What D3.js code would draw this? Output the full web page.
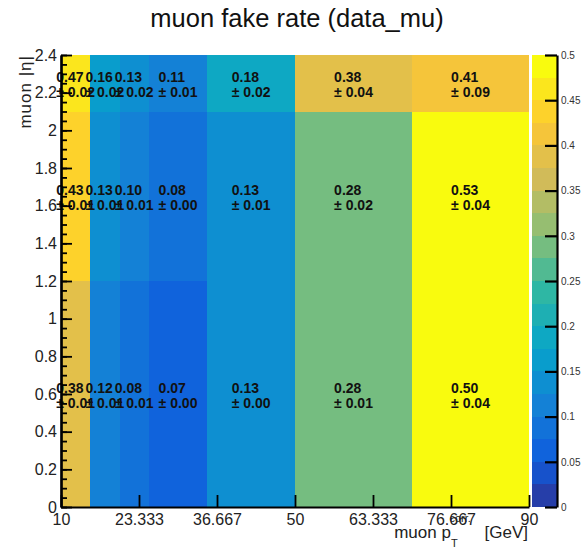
<!DOCTYPE html>
<html>
<head>
<meta charset="utf-8">
<script src="https://cdn.jsdelivr.net/npm/d3@7"></script>
<style>
body{margin:0;background:#fff;}
text{font-family:"Liberation Sans",Arial,Helvetica,sans-serif;}
.axis path,.axis line{stroke:#000;}
</style>
</head>
<body>
<div id="chart"></div>
<script>
(function(){
	var width = 587,
	height = 551;

	// bin edges
	var ptEdges = [10, 15, 20, 25, 35, 50, 70, 90];
	var etaEdges = [0, 1.2, 2.1, 2.4];

	// fake rate and error per eta row
	var rateEta0 = [0.38, 0.12, 0.08, 0.07, 0.13, 0.28, 0.50];
	var errEta0  = [0.01, 0.01, 0.01, 0.00, 0.00, 0.01, 0.04];
	var rateEta1 = [0.43, 0.13, 0.10, 0.08, 0.13, 0.28, 0.53];
	var errEta1  = [0.01, 0.01, 0.01, 0.00, 0.01, 0.02, 0.04];
	var rateEta2 = [0.47, 0.16, 0.13, 0.11, 0.18, 0.38, 0.41];
	var errEta2  = [0.02, 0.02, 0.02, 0.01, 0.02, 0.04, 0.09];

	var xTicks = [10, 23.333, 36.667, 50, 63.333, 76.667, 90];
	var xTickLabels = ["10", "23.333", "36.667", "50", "63.333", "76.667", "90"];
	var yTicks = [0, 0.2, 0.4, 0.6, 0.8, 1, 1.2, 1.4, 1.6, 1.8, 2, 2.2, 2.4];
	var yTickLabels = ["0", "0.2", "0.4", "0.6", "0.8", "1", "1.2", "1.4", "1.6", "1.8", "2", "2.2", "2.4"];
	var zTicks = [0, 0.05, 0.1, 0.15, 0.2, 0.25, 0.3, 0.35, 0.4, 0.45, 0.5];
	var zTickLabels = ["0", "0.05", "0.1", "0.15", "0.2", "0.25", "0.3", "0.35", "0.4", "0.45", "0.5"];

	var rows = [
		{rate: rateEta0, err: errEta0},
		{rate: rateEta1, err: errEta1},
		{rate: rateEta2, err: errEta2}
	];
	var cells = [];
	rows.forEach(function(r, j){
		r.rate.forEach(function(v, i){
			cells.push({x0: ptEdges[i], x1: ptEdges[i+1], y0: etaEdges[j], y1: etaEdges[j+1], v: v, e: r.err[i]});
		});
	});

	// ROOT kBird palette, 20 contour levels between 0 and 0.5
	var birdStops = [0, 0.125, 0.25, 0.375, 0.5, 0.625, 0.75, 0.875, 1];
	var birdColors = ["#352a87", "#0f5cdd", "#1481d6", "#06a4ca", "#2eb7a4", "#87bf77", "#d1bb59", "#fec832", "#f9fb0e"];
	var bird = d3.scaleLinear().domain(birdStops).range(birdColors).interpolate(d3.interpolateRgb);
	var nLevels = 20, zMax = 0.5;
	function levelColor(i){ return bird((i + 0.99) / nLevels); }
	function color(v){
		var lv = Math.floor(v / (zMax / nLevels) + 1e-9);
		lv = Math.max(0, Math.min(nLevels - 1, lv));
		return levelColor(lv);
	}

	var svg = d3.select("#chart")
	.append("svg")
	.attr("width", width)
	.attr("height", height)

	var x = d3.scaleLinear().domain([10, 90]).range([61, 529]);
	var y = d3.scaleLinear().domain([0, 2.4]).range([507, 55]);

	svg.selectAll(".cell")
	.data(cells)
	.enter().append("rect")
	.attr("class", "cell")
	.attr("x", function(d){ return x(d.x0); })
	.attr("y", function(d){ return y(d.y1); })
	.attr("width", function(d){ return x(d.x1) - x(d.x0); })
	.attr("height", function(d){ return y(d.y0) - y(d.y1); })
	.attr("fill", function(d){ return color(d.v); })
	.attr("shape-rendering", "crispEdges");

	// cell labels: two left aligned lines, block centred on the bin
	var labels = svg.selectAll(".lbl")
	.data(cells)
	.enter().append("g")
	.attr("class", "lbl")
	.attr("transform", function(d){
		return "translate(" + (x(d.x0) + x(d.x1)) / 2 + "," + (y(d.y0) + y(d.y1)) / 2 + ")";
	});
	labels.each(function(d){
		var g = d3.select(this);
		var t1 = g.append("text").attr("y", -1.5).text(d.v.toFixed(2));
		var t2 = g.append("text").attr("y", 13.5).text("\u00b1 " + d.e.toFixed(2));
		g.selectAll("text")
			.attr("font-size", 14)
			.attr("font-weight", "bold")
			.attr("fill", "#111");
		var w = Math.max(t1.node().getComputedTextLength(), t2.node().getComputedTextLength());
		g.selectAll("text").attr("x", -w / 2);
	});

	// axes
	svg.append("g")
	.attr("class", "axis")
	.attr("transform", "translate(61,0)")
	.call(d3.axisLeft(y).tickValues(yTicks).tickSize(-11).tickSizeOuter(0).tickPadding(4)
		.tickFormat(function(d, i){ return yTickLabels[i]; }));
	svg.append("g")
	.attr("class", "axis minor")
	.attr("transform", "translate(61,0)")
	.call(d3.axisLeft(y).tickValues(d3.range(0, 49).map(function(i){ return i * 0.05; })).tickSize(-6).tickSizeOuter(0).tickFormat(""));

	svg.append("g")
	.attr("class", "axis")
	.attr("transform", "translate(0,507)")
	.call(d3.axisBottom(x).tickValues(xTicks).tickSize(-12).tickSizeOuter(0).tickPadding(7)
		.tickFormat(function(d, i){ return xTickLabels[i]; }));

	svg.selectAll(".axis path").attr("stroke-width", 2.2);
	svg.selectAll(".axis line").attr("stroke-width", 1.8);
	svg.selectAll(".axis text")
	.attr("font-size", 16)
	.attr("fill", "#222")
	.attr("font-family", "Liberation Sans, Arial, sans-serif");

	// colour bar
	var z = d3.scaleLinear().domain([0, zMax]).range([507, 55]);
	svg.selectAll(".band")
	.data(d3.range(nLevels))
	.enter().append("rect")
	.attr("class", "band")
	.attr("x", 532)
	.attr("width", 25)
	.attr("y", function(i){ return z((i + 1) * zMax / nLevels); })
	.attr("height", function(i){ return z(i * zMax / nLevels) - z((i + 1) * zMax / nLevels); })
	.attr("fill", function(i){ return levelColor(i); })
	.attr("shape-rendering", "crispEdges");

	svg.append("g")
	.attr("class", "axis zaxis")
	.attr("transform", "translate(557,0)")
	.call(d3.axisRight(z).tickValues(zTicks).tickSize(-12).tickSizeOuter(0).tickPadding(4)
		.tickFormat(function(d, i){ return zTickLabels[i]; }));
	svg.selectAll(".zaxis path").attr("stroke-width", 2.2);
	svg.selectAll(".zaxis line").attr("stroke-width", 2.2).attr("stroke", "#111");
	svg.selectAll(".zaxis text")
	.attr("font-size", 10)
	.attr("fill", "#333")
	.attr("font-family", "Liberation Sans, Arial, sans-serif");

	// titles
	svg.append("text")
	.attr("x", 297)
	.attr("y", 27)
	.attr("text-anchor", "middle")
	.attr("font-size", 25.5)
	.attr("fill", "#111")
	.text("muon fake rate (data_mu)");

	svg.append("text")
	.attr("transform", "translate(31,55) rotate(-90)")
	.attr("text-anchor", "end")
	.attr("font-size", 17)
	.attr("letter-spacing", 1)
	.attr("fill", "#222")
	.text("muon |\u03b7|");

	var xt = svg.append("text")
	.attr("x", 528)
	.attr("y", 538)
	.attr("text-anchor", "end")
	.attr("font-size", 17)
	.attr("fill", "#222");
	xt.append("tspan").text("muon p");
	xt.append("tspan").attr("font-size", 11).attr("dy", 9).text("T");
	xt.append("tspan").attr("font-size", 11).attr("dx", -7).attr("dy", -25).text("corr.");
	xt.append("tspan").attr("dx", 9).attr("dy", 16).text(" [GeV]");

})();
</script>
</body>
</html>
